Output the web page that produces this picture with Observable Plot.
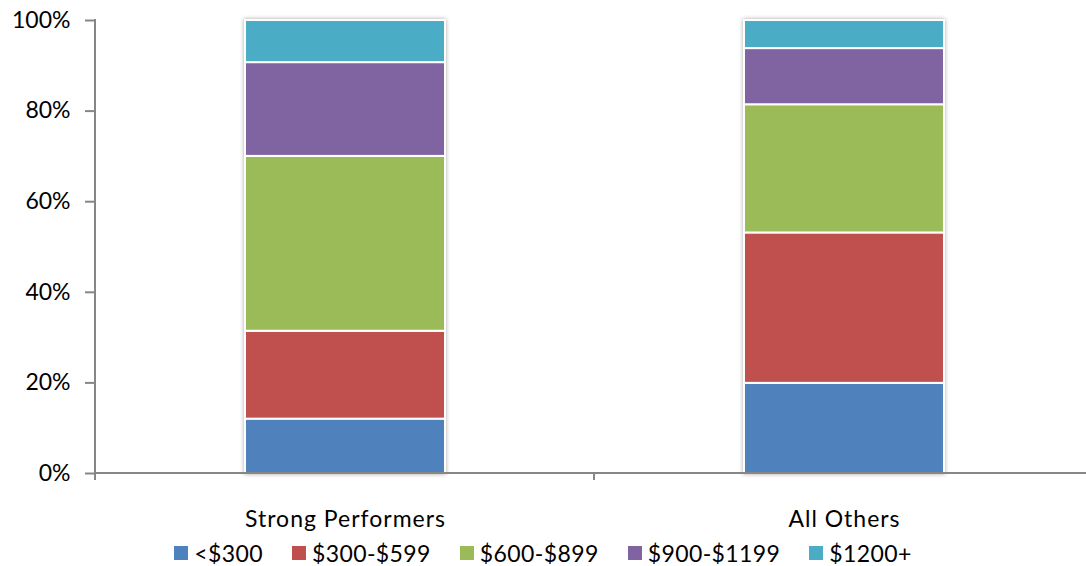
<!DOCTYPE html>
<html><head><meta charset="utf-8">
<script src="https://cdn.jsdelivr.net/npm/d3@7"></script>
<script src="https://cdn.jsdelivr.net/npm/@observablehq/plot@0.6"></script>
<style>
html,body{margin:0;padding:0;background:#fff;overflow:hidden;}
#chart svg g[aria-label="bar"]{filter: drop-shadow(0px 0px 2px rgba(0,0,0,0.35));}
#chart svg g[aria-label="x-axis tick label"]{letter-spacing:1px;}
#legend{width:1086px;display:flex;justify-content:center;align-items:center;margin-top:2px;
  font-family:Lato,"Open Sans",sans-serif;font-size:23px;line-height:22px;color:#000;letter-spacing:0.4px;}
#legend .item{display:inline-flex;align-items:center;margin-right:29px;}
#legend .item:last-child{margin-right:0;}
#legend .sw{display:inline-block;width:14px;height:14px;margin-right:6px;}
</style></head><body>
<div id="chart"></div>
<div id="legend"></div>
<script>
const categories = ["Strong Performers", "All Others"];
const priceBands = ["<$300", "$300-$599", "$600-$899", "$900-$1199", "$1200+"];
const strongPerformers = [12.0, 19.4, 38.6, 20.7, 9.3];
const allOthers = [19.9, 33.2, 28.3, 12.4, 6.2];
const bandColors = ["#4F81BD", "#C0504D", "#9BBB59", "#8064A2", "#4BACC6"];
const yTicks = [0, 20, 40, 60, 80, 100];

const seriesByCategory = [strongPerformers, allOthers];
const rows = [];
priceBands.forEach((b, i) => {
  categories.forEach((c, j) => rows.push({group: c, band: b, value: seriesByCategory[j][i] / 100}));
});

const axisLines = (index, scales, values, dims) => {
  const g = d3.create("svg:g").attr("stroke", "#868686").attr("stroke-width", 2).attr("fill", "none");
  const x0 = dims.marginLeft, x1 = dims.width - dims.marginRight;
  const yb = scales.y(0), yt = scales.y(1);
  g.append("line").attr("x1", x0).attr("x2", x0).attr("y1", yt - 1).attr("y2", yb);
  g.append("line").attr("x1", x0).attr("x2", x1).attr("y1", yb).attr("y2", yb);
  const n = categories.length;
  for (let i = 0; i <= n; i++) {
    const xb = x0 + i * (x1 - x0) / n;
    g.append("line").attr("x1", xb).attr("x2", xb).attr("y1", yb).attr("y2", yb + 7);
  }
  return g.node();
};

const chart = Plot.plot({
  width: 1093,
  height: 540,
  marginLeft: 95,
  marginRight: 0,
  marginTop: 20,
  marginBottom: 67,
  style: {fontFamily: "Lato, 'Open Sans', sans-serif", fontSize: "23px", color: "#000", background: "#fff", overflow: "visible", maxWidth: "none"},
  x: {domain: categories, paddingInner: 0.6, paddingOuter: 0.3, axis: null},
  y: {domain: [0, 1], axis: null},
  color: {domain: priceBands, range: bandColors},
  marks: [
    Plot.barY(rows, {x: "group", y: "value", fill: "band", stroke: "white", strokeWidth: 2}),
    axisLines,
    Plot.axisY(yTicks.map(d => d / 100), {tickSize: 10, tickPadding: 15, stroke: "#868686", strokeWidth: 2, fill: "#000",
      tickFormat: d => Math.round(d * 100) + "%", label: null}),
    Plot.axisX({tickSize: 0, tickPadding: 37, fill: "#000", label: null})
  ]
});
document.getElementById("chart").appendChild(chart);

const legend = d3.select("#legend");
priceBands.forEach((b, i) => {
  const it = legend.append("span").attr("class", "item");
  it.append("span").attr("class", "sw").style("background", bandColors[i]);
  it.append("span").text(b);
});
</script>
</body></html>
